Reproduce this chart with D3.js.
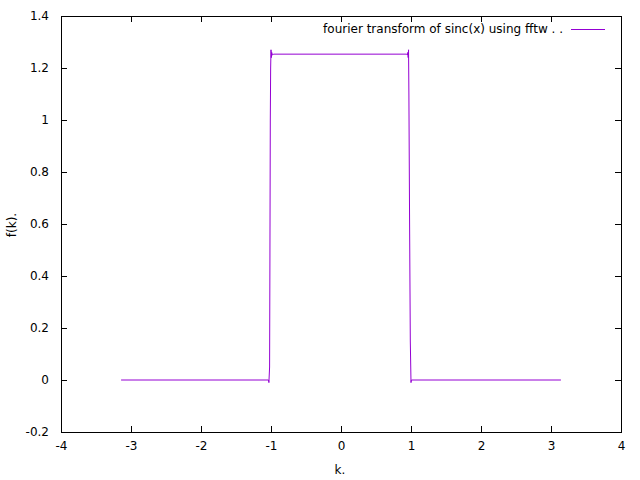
<!DOCTYPE html>
<html><head><meta charset="utf-8">
<script src="https://cdn.jsdelivr.net/npm/d3@7"></script>
<style>body{margin:0;background:#fff}text{font-family:"DejaVu Sans",sans-serif;font-size:12px;fill:#000}</style>
</head><body><svg id="c" width="640" height="480"></svg>
<script>
const xTicks=[-4,-3,-2,-1,0,1,2,3,4];
const yTicks=[-0.2,0,0.2,0.4,0.6,0.8,1,1.2,1.4];
const kVals=[-3.1416,-1.035,-1.03,-1.02,-1.015,-1.01,-1.005,-1.0,-0.995,-0.99,-0.98,-0.96,0.94,0.95,0.955,0.96,0.965,0.97,0.98,0.99,1.0,1.005,1.01,3.1416];
const fVals=[0,0,-0.01,0.05,0.5,1.0,1.2,1.27,1.24,1.26,1.25,1.2533,1.2533,1.25,1.26,1.24,1.27,1.1,0.6,0.15,-0.01,0.0,0,0];
const seriesName="fourier transform of sinc(x) using fftw . .";
const W=640,H=480,m={l:61,r:19,t:16,b:48};
const svg=d3.select("#c");
const x=d3.scaleLinear().domain([-4,4]).range([m.l,W-m.r]);
const y=d3.scaleLinear().domain([-0.2,1.4]).range([H-m.b,m.t]);
const tl=6;
const fmt=d=>String(+(+d).toFixed(1));
svg.append("g").attr("transform",`translate(0,${H-m.b})`).call(d3.axisBottom(x).tickValues(xTicks).tickSizeInner(-tl).tickSizeOuter(0).tickPadding(9).tickFormat(fmt));
svg.append("g").attr("transform",`translate(0,${m.t})`).call(d3.axisTop(x).tickValues(xTicks).tickSizeInner(-tl).tickSizeOuter(0).tickFormat(""));
svg.append("g").attr("transform",`translate(${m.l},0)`).call(d3.axisLeft(y).tickValues(yTicks).tickSizeInner(-tl).tickSizeOuter(0).tickPadding(12).tickFormat(fmt));
svg.append("g").attr("transform",`translate(${W-m.r},0)`).call(d3.axisRight(y).tickValues(yTicks).tickSizeInner(-tl).tickSizeOuter(0).tickFormat(""));
svg.selectAll(".domain").remove();
svg.selectAll(".tick line").attr("stroke","#000");
svg.selectAll(".tick text").style("font-size","12px").style("font-family","DejaVu Sans, sans-serif").attr("fill","#000");
svg.append("rect").attr("x",m.l+0.5).attr("y",m.t+0.5).attr("width",W-m.l-m.r).attr("height",H-m.t-m.b).attr("fill","none").attr("stroke","#000");
const data=kVals.map((k,i)=>[k,fVals[i]]);
svg.append("path").datum(data).attr("fill","none").attr("stroke","#9400d3").attr("stroke-width",1)
 .attr("d",d3.line().x(d=>x(d[0])).y(d=>y(d[1])));
svg.append("text").attr("x",563).attr("y",33).attr("text-anchor","end").text(seriesName);
svg.append("line").attr("x1",571).attr("x2",605).attr("y1",29.5).attr("y2",29.5).attr("stroke","#9400d3");
svg.append("text").attr("x",340).attr("y",474).attr("text-anchor","middle").text("k.");
svg.append("text").attr("transform","translate(16,225) rotate(-90)").attr("text-anchor","middle").text("f(k).");
</script></body></html>
